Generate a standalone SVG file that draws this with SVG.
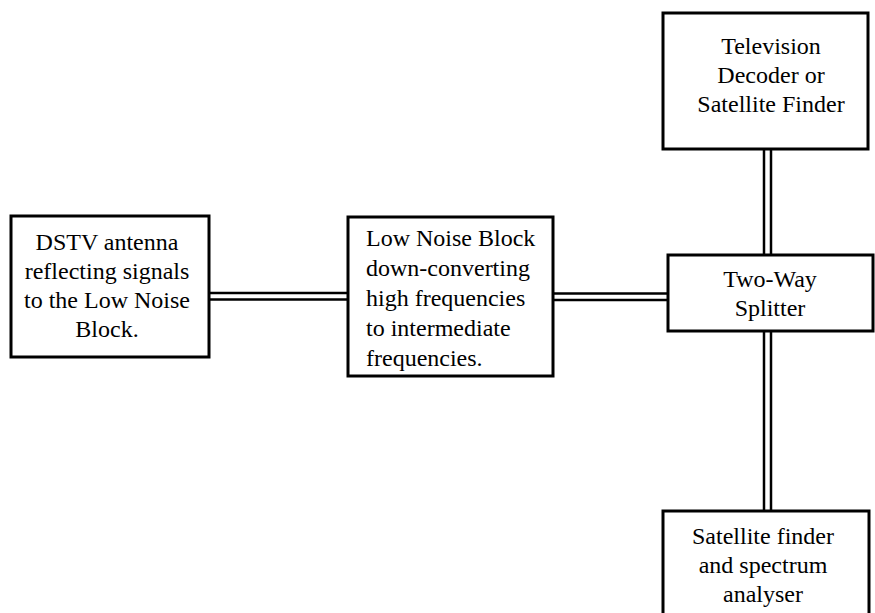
<svg xmlns="http://www.w3.org/2000/svg" width="875" height="613" viewBox="0 0 875 613">
<style>
.box{fill:#fff;stroke:#000;stroke-width:3}
text{font-family:'Liberation Serif','Times New Roman',Times,'DejaVu Serif',serif;font-size:24px;fill:#000}
.c{text-anchor:middle}
.w{stroke:#000;stroke-width:2.5;fill:none}
</style>
<rect width="875" height="613" fill="#fff"/>
<g id="connectors">
<line class="w" x1="209" y1="293" x2="348" y2="293"/>
<line class="w" x1="209" y1="299.5" x2="348" y2="299.5"/>
<line class="w" x1="553" y1="293.5" x2="668" y2="293.5"/>
<line class="w" x1="553" y1="300" x2="668" y2="300"/>
<line class="w" x1="764" y1="149" x2="764" y2="255"/>
<line class="w" x1="771" y1="149" x2="771" y2="255"/>
<line class="w" x1="764" y1="331" x2="764" y2="511"/>
<line class="w" x1="771" y1="331" x2="771" y2="511"/>
</g>
<g id="dstv" font-family="Liberation Serif, serif">
<rect class="box" x="11" y="216" width="198" height="141"/>
<text class="c" x="107" y="250">DSTV antenna</text>
<text class="c" x="107" y="279">reflecting signals</text>
<text class="c" x="107" y="308">to the Low Noise</text>
<text class="c" x="107" y="337">Block.</text>
</g>
<g id="lnb">
<rect class="box" x="348" y="217" width="205" height="159"/>
<text x="366" y="246">Low Noise Block</text>
<text x="366" y="276">down-converting</text>
<text x="366" y="306">high frequencies</text>
<text x="366" y="336">to intermediate</text>
<text x="366" y="366">frequencies.</text>
</g>
<g id="splitter">
<rect class="box" x="668" y="255" width="205" height="76"/>
<text class="c" x="770" y="287">Two-Way</text>
<text class="c" x="770" y="316">Splitter</text>
</g>
<g id="tv">
<rect class="box" x="663" y="13" width="205" height="136"/>
<text class="c" x="771" y="54">Television</text>
<text class="c" x="771" y="83">Decoder or</text>
<text class="c" x="771" y="112">Satellite Finder</text>
</g>
<g id="analyser">
<rect class="box" x="663" y="511" width="206" height="120"/>
<text class="c" x="763" y="544">Satellite finder</text>
<text class="c" x="763" y="573">and spectrum</text>
<text class="c" x="763" y="602">analyser</text>
</g>
</svg>
